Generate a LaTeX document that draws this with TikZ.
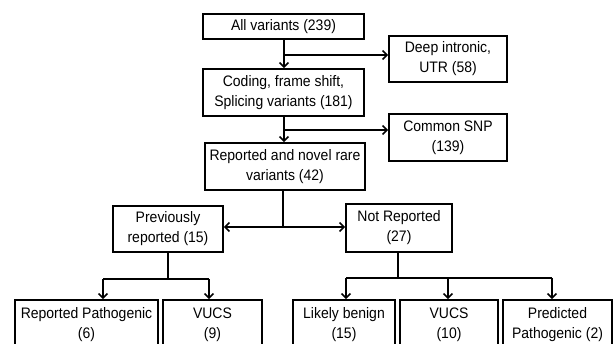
\documentclass[tikz,border=0pt]{standalone}
\usepackage{fontspec}
\setmainfont[FakeStretch=0.92]{Liberation Sans}
\usetikzlibrary{arrows.meta}
\tikzset{
  box/.style={draw=black, line width=1.8pt, fill=white, inner sep=0pt, align=center,
    font=\fontsize{15.2pt}{20pt}\selectfont, text=black},
  conn/.style={draw=black, line width=1.8pt},
  arr/.style={conn, -{Straight Barb[length=4.5pt,width=9pt,line width=1.5pt]}}
}
\begin{document}
\begin{tikzpicture}[x=1pt,y=-1pt]
\useasboundingbox (0,0) rectangle (614,344);
\clip (0,0) rectangle (614,344);
\fill[white] (0,0) rectangle (614,344);

\node[box, minimum width=161pt, minimum height=25pt] (all) at (283.5,26.5) {All variants (239)};
\node[box, minimum width=161pt, minimum height=47pt] (coding) at (283.5,92.5) {Coding, frame shift,\\Splicing variants (181)};
\node[box, minimum width=118pt, minimum height=46pt] (deep) at (448,59) {Deep intronic,\\UTR (58)};
\node[box, minimum width=118pt, minimum height=47pt] (snp) at (448,137.5) {Common SNP\\(139)};
\node[box, minimum width=160pt, minimum height=47pt] (rare) at (285,166.5) {Reported and novel rare\\variants (42)};
\node[box, minimum width=110pt, minimum height=46pt] (prev) at (168,229) {Previously\\reported (15)};
\node[box, minimum width=106pt, minimum height=48pt] (notrep) at (399,228) {Not Reported\\(27)};
\node[box, minimum width=143pt, minimum height=50pt] (rp) at (86.5,325) {Reported Pathogenic\\(6)};
\node[box, minimum width=99pt, minimum height=50pt] (vucsa) at (212.5,325) {VUCS\\(9)};
\node[box, minimum width=102pt, minimum height=50pt] (lb) at (344,325) {Likely benign\\(15)};
\node[box, minimum width=98pt, minimum height=50pt] (vucsb) at (449,325) {VUCS\\(10)};
\node[box, minimum width=109pt, minimum height=50pt] (pred) at (557.5,325) {Predicted\\Pathogenic (2)};

% all -> coding, branch to deep
\coordinate (j1) at (284,55);
\draw[arr] (all.south -| j1) -- (coding.north -| j1);
\draw[arr] (j1) -- (j1 -| deep.west);

% coding -> rare, branch to snp
\coordinate (j2) at (284,130);
\draw[arr] (coding.south -| j2) -- (rare.north -| j2);
\draw[arr] (j2) -- (j2 -| snp.west);

% rare -> prev / notrep
\coordinate (j3) at (283,227);
\draw[conn] (rare.south -| j3) -- (j3);
\draw[arr] (j3) -- (j3 -| prev.east);
\draw[arr] (j3) -- (j3 -| notrep.west);

% prev -> rp, vucsa
\coordinate (j4) at (168,279);
\coordinate (b1) at (103,279);
\coordinate (b2) at (209,279);
\draw[conn] (prev.south -| j4) -- (j4);
\draw[conn] (b1) -- (b2);
\draw[arr] (b1) -- (b1 |- rp.north);
\draw[arr] (b2) -- (b2 |- vucsa.north);

% notrep -> lb, vucsb, pred
\coordinate (j5) at (398,278);
\coordinate (c1) at (346,278);
\coordinate (c2) at (448,278);
\coordinate (c3) at (552,278);
\draw[conn] (notrep.south -| j5) -- (j5);
\draw[conn] (c1) -- (c3);
\draw[arr] (c1) -- (c1 |- lb.north);
\draw[arr] (c2) -- (c2 |- vucsb.north);
\draw[arr] (c3) -- (c3 |- pred.north);
\end{tikzpicture}
\end{document}
